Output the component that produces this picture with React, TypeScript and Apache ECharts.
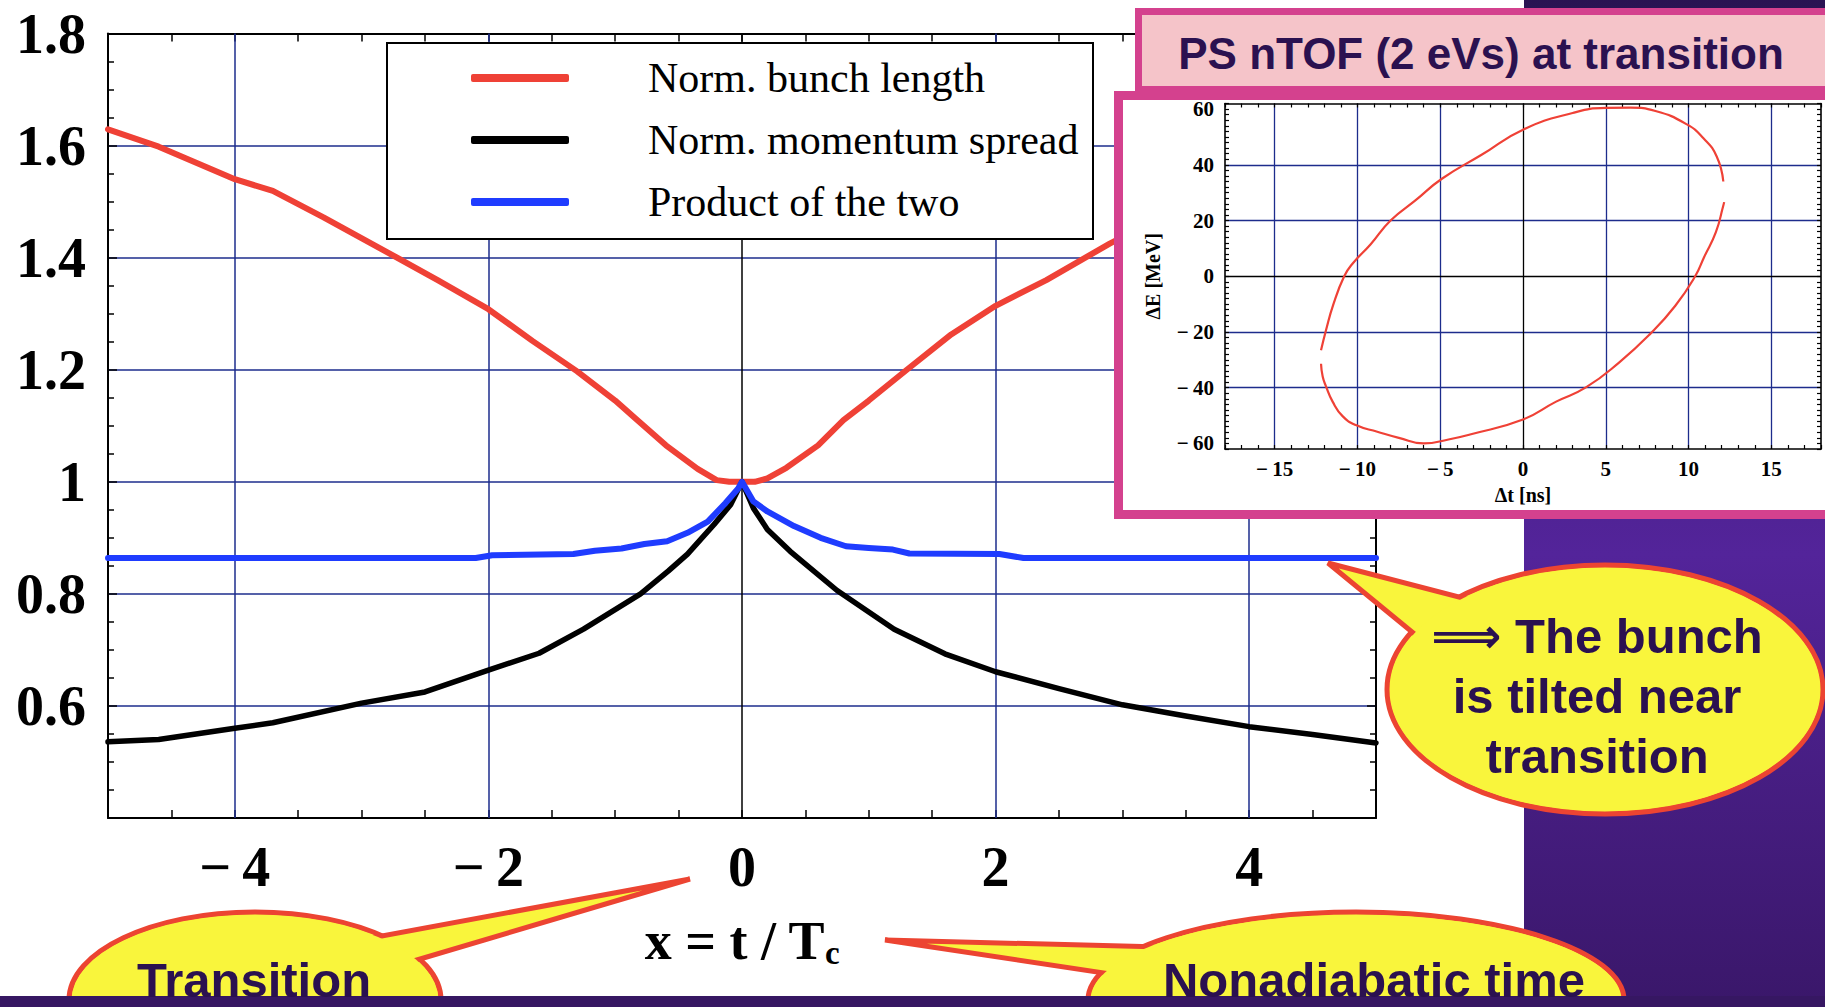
import React, { useEffect, useRef } from 'react';
import * as echarts from 'echarts';

// ---- Main plot: normalised quantities versus x = t / Tc ----
const X_LENGTH = [-5, -4.6, -4, -3.7, -3.3, -2.8, -2.4, -2, -1.65, -1.3, -1.0, -0.84, -0.6, -0.35, -0.2, -0.1, 0, 0.1, 0.2, 0.35, 0.6, 0.8, 1.0, 1.3, 1.65, 2, 2.4, 2.9, 3.3, 3.7, 4, 4.6, 5];
const Y_LENGTH = [1.629, 1.598, 1.54, 1.519, 1.472, 1.41, 1.36, 1.308, 1.251, 1.197, 1.145, 1.113, 1.065, 1.023, 1.003, 1.0, 1.0, 1.0, 1.006, 1.025, 1.065, 1.11, 1.145, 1.2, 1.263, 1.314, 1.36, 1.425, 1.472, 1.519, 1.54, 1.598, 1.629];

const X_SPREAD = [-5, -4.6, -4, -3.7, -3, -2.5, -2, -1.6, -1.25, -0.8, -0.58, -0.43, -0.22, -0.09, 0, 0.09, 0.2, 0.38, 0.75, 1.2, 1.6, 2, 2.5, 3, 3.5, 4, 4.5, 5];
const Y_SPREAD = [0.536, 0.54, 0.56, 0.57, 0.605, 0.625, 0.664, 0.694, 0.737, 0.8, 0.841, 0.871, 0.924, 0.959, 1.0, 0.953, 0.915, 0.876, 0.806, 0.737, 0.693, 0.661, 0.631, 0.602, 0.582, 0.563, 0.549, 0.534];

const X_PRODUCT = [-5, -2.1, -1.97, -1.33, -1.16, -0.95, -0.77, -0.59, -0.43, -0.27, -0.13, -0.03, 0, 0.09, 0.2, 0.41, 0.62, 0.82, 1.0, 1.19, 1.32, 2.03, 2.22, 5];
const Y_PRODUCT = [0.864, 0.864, 0.869, 0.871, 0.877, 0.881, 0.889, 0.894, 0.909, 0.929, 0.962, 0.988, 1.0, 0.965, 0.947, 0.921, 0.9, 0.885, 0.882, 0.879, 0.872, 0.871, 0.864, 0.864];

const SERIES_NAMES = ['Norm. bunch length', 'Norm. momentum spread', 'Product of the two'];

const MAIN_X_TICKS = [-4, -2, 0, 2, 4];
const MAIN_Y_TICKS = [0.6, 0.8, 1, 1.2, 1.4, 1.6, 1.8];
const MAIN_X_GRID = [-4, -2, 2, 4];

// ---- Inset: longitudinal phase-space contour (Δt, ΔE) ----
const UPPER_T = [12.1, 11.7, 10.9, 9.9, 8.0, 6.5, 5.0, 3.0, 0, -2.5, -4.9, -6.5, -8.0, -9.2, -10.3, -10.8, -11.45, -11.9, -12.2];
const UPPER_E = [34, 43, 49.5, 54.5, 59.3, 60.5, 60.4, 58.6, 52.6, 43.6, 35, 27.2, 20, 11.5, 4.5, 0, -10, -19.4, -26.6];
const LOWER_T = [-12.2, -12.1, -11.9, -11.5, -10.9, -10.1, -8.8, -7.5, -6.0, -4.5, -3.2, 0, 2.0, 3.8, 5.8, 7.7, 9.2, 10.4, 10.95, 11.65, 12.1, 12.15];
const LOWER_E = [-31.4, -36, -39.5, -45, -50.2, -53.4, -55.8, -58, -60, -58.6, -56.8, -51.4, -45, -39.9, -31, -20.6, -10.6, 0, 7, 15.8, 25.4, 26.6];

const INSET_T_TICKS = [-15, -10, -5, 0, 5, 10, 15];
const INSET_E_TICKS = [-60, -40, -20, 0, 20, 40, 60];
const INSET_T_GRID = [-15, -10, -5, 5, 10, 15];
const INSET_E_GRID = [-40, -20, 20, 40];

const SERIF = '"Liberation Serif", "Times New Roman", serif';
const SANS = '"Liberation Sans", Arial, "DejaVu Sans", sans-serif';
const NAVY = '#1d2c8c';
const RED = '#ef4136';
const BLUE = '#1f3cff';
const INK = '#2b1150';
const MAGENTA = '#d4418e';
const YELLOW = '#f9f53c';
const BUBBLE_RED = '#ec4432';

const zip = (xs: number[], ys: number[]) => xs.map((x, i) => [x, ys[i]]);
const signed = (v: number) => (v < 0 ? '\u2212\u2009' + Math.abs(v) : String(v));

const gridLines = (axis: 'xAxis' | 'yAxis', vals: number[], color: string, width: number) =>
  vals.map((v) => ({ [axis]: v, lineStyle: { color, width, type: 'solid' } }));

const markLineOf = (data: any[], z: number) => ({
  silent: true,
  z,
  symbol: ['none', 'none'],
  label: { show: false },
  emphasis: { disabled: true },
  lineStyle: { type: 'solid' },
  data,
});

// Speech bubble: ellipse + tail, with an inner ellipse hiding the tail's base
const bubble = (cx: number, cy: number, rx: number, ry: number, tail: number[][], z: number) => [
  { type: 'ellipse', z, shape: { cx, cy, rx, ry }, style: { fill: YELLOW, stroke: BUBBLE_RED, lineWidth: 5 } },
  { type: 'polygon', z, shape: { points: tail }, style: { fill: YELLOW, stroke: BUBBLE_RED, lineWidth: 5, lineJoin: 'miter' } },
  { type: 'ellipse', z, shape: { cx, cy, rx: rx - 3, ry: ry - 3 }, style: { fill: YELLOW } },
];

const bubbleText = (text: string, x: number, y: number, z: number) => ({
  type: 'text',
  z,
  x,
  y,
  style: {
    text,
    fill: INK,
    fontFamily: SANS,
    fontWeight: 'bold',
    fontSize: 49,
    lineHeight: 60,
    align: 'center',
    verticalAlign: 'middle',
  },
});

function buildOption(): any {
  const mainTickLabel = {
    fontFamily: SERIF,
    fontWeight: 'bold',
    fontSize: 56,
    color: '#000',
  };
  const insetTickLabel = {
    fontFamily: SERIF,
    fontWeight: 'bold',
    fontSize: 21,
    color: '#000',
  };
  const frame = { onZero: false, lineStyle: { color: '#000', width: 2 } };
  const insetFrame = { onZero: false, lineStyle: { color: '#000', width: 1.6 } };
  const mainTick = { inside: true, length: 8, lineStyle: { color: '#000', width: 1.5 } };
  const mainMinor = { show: true, splitNumber: 4, length: 6, lineStyle: { color: '#000', width: 1.5 } };
  const insetTick = { inside: true, length: 4, lineStyle: { color: '#000', width: 1.2 } };

  return {
    animation: false,
    backgroundColor: '#ffffff',
    grid: [
      { left: 108, right: 449, top: 33.5, bottom: 189, outerBoundsMode: 'none', containLabel: false },
      { left: 1225, right: 4, top: 103.5, bottom: 558, outerBoundsMode: 'none', containLabel: false },
    ],
    legend: {
      data: SERIES_NAMES,
      orient: 'vertical',
      left: 471,
      top: 53,
      padding: 0,
      itemWidth: 98,
      itemHeight: 8,
      itemGap: 12,
      icon: 'roundRect',
      selectedMode: false,
      textStyle: {
        fontFamily: SERIF,
        fontSize: 42,
        color: '#000',
        lineHeight: 50,
        padding: [0, 0, 0, 74],
      },
    },
    xAxis: [
      {
        type: 'value',
        gridIndex: 0,
        min: -5,
        max: 5,
        interval: 0.5,
        axisLine: frame,
        axisTick: mainTick,
        axisLabel: {
          ...mainTickLabel,
          margin: 21,
          formatter: (v: number) => {
            const r = Math.round(v * 2) / 2;
            return MAIN_X_TICKS.includes(r) ? signed(r) : '';
          },
        },
        splitLine: { show: false },
        name: '{a|x = t / T}{b|c}',
        nameLocation: 'middle',
        nameGap: 94,
        nameTextStyle: {
          rich: {
            a: { fontFamily: SERIF, fontWeight: 'bold', fontSize: 54, color: '#000', lineHeight: 52 },
            b: { fontFamily: SERIF, fontWeight: 'bold', fontSize: 33, color: '#000', lineHeight: 57, verticalAlign: 'bottom' },
          },
        },
      },
      {
        type: 'value',
        gridIndex: 0,
        position: 'top',
        min: -5,
        max: 5,
        interval: 0.5,
        axisLine: frame,
        axisTick: mainTick,
        axisLabel: { show: false },
        splitLine: { show: false },
      },
      {
        type: 'value',
        gridIndex: 1,
        z: 12,
        min: -18,
        max: 18,
        interval: 1,
        axisLine: insetFrame,
        axisTick: insetTick,
        axisLabel: {
          ...insetTickLabel,
          margin: 9,
          formatter: (v: number) => (INSET_T_TICKS.includes(Math.round(v)) ? signed(Math.round(v)) : ''),
        },
        splitLine: { show: false },
        name: '\u0394t [ns]',
        nameLocation: 'middle',
        nameGap: 36,
        nameTextStyle: { fontFamily: SERIF, fontWeight: 'bold', fontSize: 20, color: '#000' },
      },
      {
        type: 'value',
        gridIndex: 1,
        z: 12,
        position: 'top',
        min: -18,
        max: 18,
        interval: 1,
        axisLine: insetFrame,
        axisTick: insetTick,
        axisLabel: { show: false },
        splitLine: { show: false },
      },
    ],
    yAxis: [
      {
        type: 'value',
        gridIndex: 0,
        min: 0.4,
        max: 1.8,
        interval: 0.2,
        axisLine: frame,
        axisTick: { ...mainTick, length: 9 },
        minorTick: mainMinor,
        axisLabel: {
          ...mainTickLabel,
          margin: 22,
          formatter: (v: number) => {
            const r = Math.round(v * 100) / 100;
            if (!MAIN_Y_TICKS.includes(r)) return '';
            return r === 1 ? '1' : r.toFixed(1);
          },
        },
        splitLine: { show: true, lineStyle: { color: NAVY, width: 1.5 } },
      },
      {
        type: 'value',
        gridIndex: 0,
        position: 'right',
        min: 0.4,
        max: 1.8,
        interval: 0.2,
        axisLine: frame,
        axisTick: { ...mainTick, length: 9 },
        minorTick: mainMinor,
        axisLabel: { show: false },
        splitLine: { show: false },
      },
      {
        type: 'value',
        gridIndex: 1,
        z: 12,
        min: -62,
        max: 62,
        interval: 2,
        axisLine: insetFrame,
        axisTick: insetTick,
        axisLabel: {
          ...insetTickLabel,
          margin: 11,
          formatter: (v: number) => (INSET_E_TICKS.includes(Math.round(v)) ? signed(Math.round(v)) : ''),
        },
        splitLine: { show: false },
        name: '\u0394E [MeV]',
        nameLocation: 'middle',
        nameRotate: 90,
        nameGap: 62,
        nameTextStyle: { fontFamily: SERIF, fontWeight: 'bold', fontSize: 20, color: '#000' },
      },
      {
        type: 'value',
        gridIndex: 1,
        z: 12,
        position: 'right',
        min: -62,
        max: 62,
        interval: 2,
        axisLine: insetFrame,
        axisTick: insetTick,
        axisLabel: { show: false },
        splitLine: { show: false },
      },
    ],
    series: [
      {
        type: 'line',
        xAxisIndex: 0,
        yAxisIndex: 0,
        z: 1,
        data: [],
        silent: true,
        markLine: markLineOf([
          ...gridLines('xAxis', MAIN_X_GRID, NAVY, 1.5),
          ...gridLines('xAxis', [0], '#000', 1.5),
        ], 1),
      },
      {
        name: SERIES_NAMES[0],
        type: 'line',
        xAxisIndex: 0,
        yAxisIndex: 0,
        z: 2,
        color: RED,
        showSymbol: false,
        symbol: 'none',
        lineStyle: { color: RED, width: 6, cap: 'round', join: 'round' },
        data: zip(X_LENGTH, Y_LENGTH),
      },
      {
        name: SERIES_NAMES[1],
        type: 'line',
        xAxisIndex: 0,
        yAxisIndex: 0,
        z: 2,
        color: '#000',
        showSymbol: false,
        symbol: 'none',
        lineStyle: { color: '#000', width: 5.5, cap: 'round', join: 'round' },
        data: zip(X_SPREAD, Y_SPREAD),
      },
      {
        name: SERIES_NAMES[2],
        type: 'line',
        xAxisIndex: 0,
        yAxisIndex: 0,
        z: 2,
        color: BLUE,
        showSymbol: false,
        symbol: 'none',
        lineStyle: { color: BLUE, width: 6, cap: 'round', join: 'round' },
        data: zip(X_PRODUCT, Y_PRODUCT),
      },
      {
        type: 'line',
        xAxisIndex: 2,
        yAxisIndex: 2,
        z: 11,
        data: [],
        silent: true,
        markLine: markLineOf([
          ...gridLines('xAxis', INSET_T_GRID, NAVY, 1.3),
          ...gridLines('yAxis', INSET_E_GRID, NAVY, 1.3),
          ...gridLines('xAxis', [0], '#000', 1.3),
          ...gridLines('yAxis', [0], '#000', 1.3),
        ], 11),
      },
      {
        type: 'line',
        xAxisIndex: 2,
        yAxisIndex: 2,
        z: 13,
        smooth: 0.5,
        showSymbol: false,
        symbol: 'none',
        silent: true,
        lineStyle: { color: RED, width: 2.2 },
        data: zip(UPPER_T, UPPER_E),
      },
      {
        type: 'line',
        xAxisIndex: 2,
        yAxisIndex: 2,
        z: 13,
        smooth: 0.5,
        showSymbol: false,
        symbol: 'none',
        silent: true,
        lineStyle: { color: RED, width: 2.2 },
        data: zip(LOWER_T, LOWER_E),
      },
    ],
    graphic: {
      elements: [
        // legend frame
        { type: 'rect', z: 3, shape: { x: 387, y: 43, width: 706, height: 196 }, style: { fill: '#fff', stroke: '#000', lineWidth: 2 } },
        // slide background strip on the right
        {
          type: 'rect',
          z: 5,
          shape: { x: 1524, y: 0, width: 301, height: 1007 },
          style: {
            fill: new echarts.graphic.LinearGradient(0, 0, 0, 1, [
              { offset: 0, color: '#2a1352' },
              { offset: 0.15, color: '#3a1a6c' },
              { offset: 0.55, color: '#53249a' },
              { offset: 1, color: '#3a176a' },
            ]),
          },
        },
        // inset frame and title box
        { type: 'rect', z: 10, shape: { x: 1118.5, y: 95.5, width: 760, height: 419 }, style: { fill: '#fff', stroke: MAGENTA, lineWidth: 9 } },
        { type: 'rect', z: 10, shape: { x: 1138.5, y: 11.5, width: 760, height: 78 }, style: { fill: '#f5c4c9', stroke: MAGENTA, lineWidth: 7 } },
        {
          type: 'text',
          z: 11,
          x: 1481,
          y: 53,
          style: {
            text: 'PS nTOF (2 eVs) at transition',
            fill: INK,
            fontFamily: SANS,
            fontWeight: 'bold',
            fontSize: 44,
            align: 'center',
            verticalAlign: 'middle',
          },
        },
        // callouts
        ...bubble(1605, 689.5, 218, 124.5, [[1328, 563], [1490, 605], [1440, 655]], 20),
        bubbleText('\u27F9 The bunch\nis tilted near\ntransition', 1597, 696, 21),
        ...bubble(255, 1000, 186, 88, [[690, 879], [360, 940], [400, 965]], 20),
        ...bubble(1356, 1000, 268, 88, [[885, 940], [1200, 948], [1130, 977]], 20),
        // bottom slide bar
        { type: 'rect', z: 30, shape: { x: 0, y: 996, width: 1825, height: 11 }, style: { fill: '#361762' } },
        bubbleText('Transition', 254, 980, 31),
        bubbleText('Nonadiabatic time', 1374, 980, 31),
      ],
    },
  };
}

const App = () => {
  const ref = useRef<HTMLDivElement>(null);
  useEffect(() => {
    document.body.style.margin = '0';
    const chart = echarts.init(ref.current as HTMLDivElement, null, { renderer: 'svg' });
    chart.setOption(buildOption());
    return () => chart.dispose();
  }, []);
  return <div ref={ref} style={{ width: 1825, height: 1007 }} />;
};

export default App;
